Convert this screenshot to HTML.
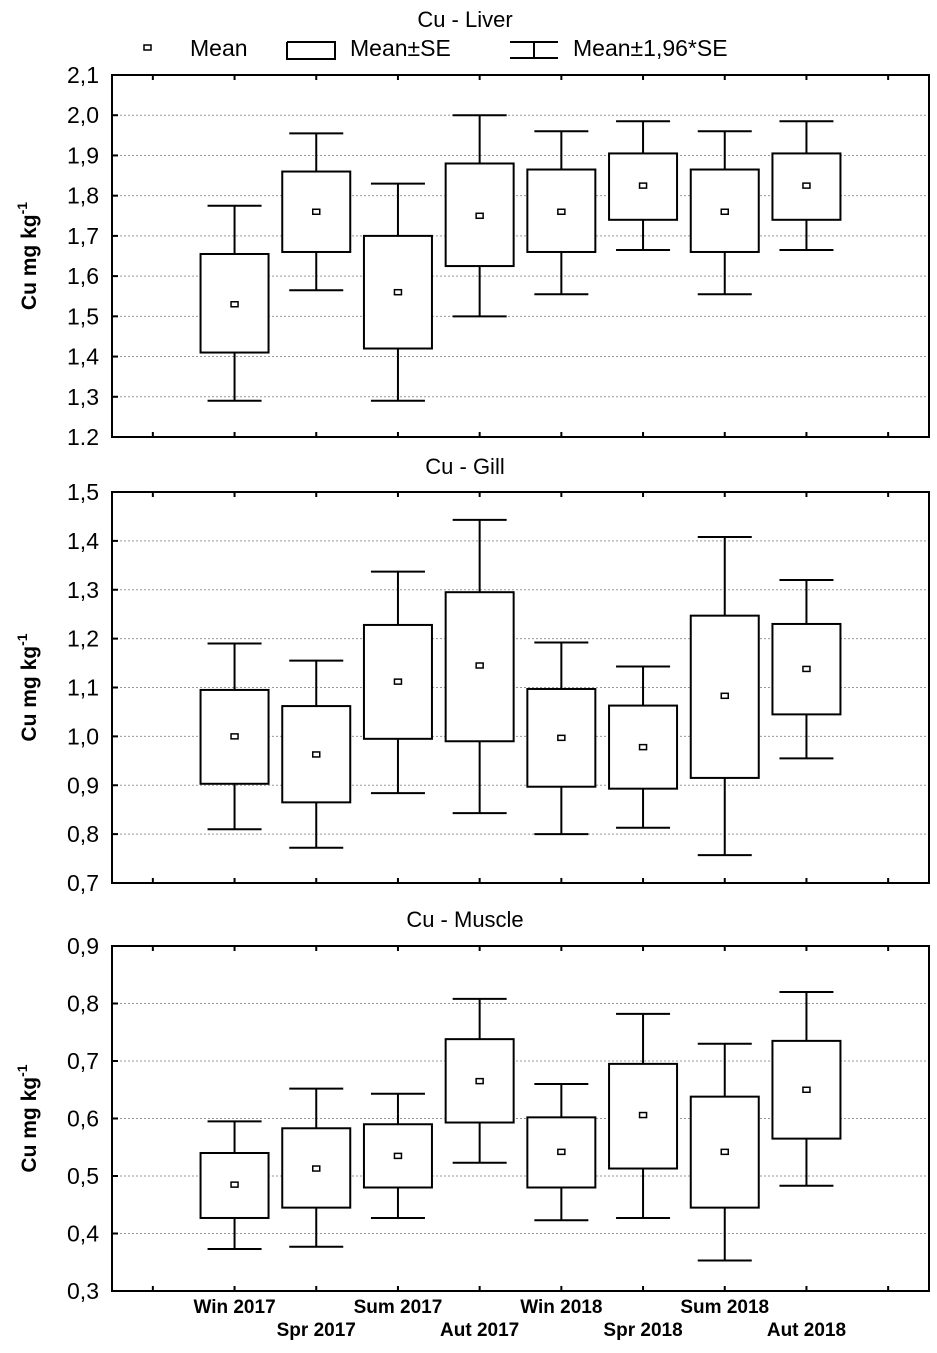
<!DOCTYPE html>
<html><head><meta charset="utf-8"><style>
body{margin:0;background:#fff}
svg{display:block;font-family:"Liberation Sans",Arial,sans-serif}
</style></head><body>
<svg id="c" width="937" height="1353" viewBox="0 0 937 1353"></svg>
<script>
const categories=["Win 2017","Spr 2017","Sum 2017","Aut 2017","Win 2018","Spr 2018","Sum 2018","Aut 2018"];
const liverMean=[1.53,1.76,1.56,1.75,1.76,1.825,1.76,1.825];
const liverSeLo=[1.41,1.66,1.42,1.625,1.66,1.74,1.66,1.74];
const liverSeHi=[1.655,1.86,1.70,1.88,1.865,1.905,1.865,1.905];
const liverCiLo=[1.29,1.565,1.29,1.50,1.555,1.665,1.555,1.665];
const liverCiHi=[1.775,1.955,1.83,2.00,1.96,1.985,1.96,1.985];
const gillMean=[1.0,0.963,1.112,1.145,0.997,0.978,1.083,1.138];
const gillSeLo=[0.903,0.865,0.995,0.99,0.897,0.893,0.915,1.045];
const gillSeHi=[1.095,1.062,1.228,1.295,1.097,1.063,1.247,1.23];
const gillCiLo=[0.81,0.772,0.884,0.843,0.80,0.813,0.757,0.955];
const gillCiHi=[1.19,1.155,1.337,1.443,1.192,1.143,1.408,1.32];
const muscleMean=[0.485,0.513,0.535,0.665,0.542,0.606,0.542,0.65];
const muscleSeLo=[0.427,0.445,0.48,0.593,0.48,0.513,0.445,0.565];
const muscleSeHi=[0.54,0.583,0.59,0.738,0.602,0.695,0.638,0.735];
const muscleCiLo=[0.373,0.377,0.427,0.523,0.423,0.427,0.353,0.483];
const muscleCiHi=[0.595,0.652,0.643,0.808,0.66,0.782,0.73,0.82];
const liverTicks=["2,1","2,0","1,9","1,8","1,7","1,6","1,5","1,4","1,3","1.2"];
const gillTicks=["1,5","1,4","1,3","1,2","1,1","1,0","0,9","0,8","0,7"];
const muscleTicks=["0,9","0,8","0,7","0,6","0,5","0,4","0,3"];

const NS="http://www.w3.org/2000/svg";
const svg=document.getElementById('c');
function mk(tag,attrs,parent,txt){const e=document.createElementNS(NS,tag);for(const k in attrs)e.setAttribute(k,attrs[k]);if(txt!==undefined)e.textContent=txt;(parent||svg).appendChild(e);return e;}
const L=112,R=929;
const step=(R-L)/10;
function xPos(i){return L+(i+1.5)*step;}

function panel(name,title,titleY,top,bottom,vmax,vmin,ticks,mean,seLo,seHi,ciLo,ciHi){
  const g=mk('g',{});
  
  
  const y=v=>top+(vmax-v)/(vmax-vmin)*(bottom-top);
  const t=mk('text',{x:465,y:titleY,'text-anchor':'middle','font-size':22},g,title);
  
  ticks.forEach((lab,i)=>{
    const v=vmax-i*(vmax-vmin)/(ticks.length-1);
    const yy=y(v);
    if(i>0&&i<ticks.length-1){const gl=mk('line',{x1:L,x2:R,y1:yy,y2:yy,stroke:'#999','stroke-width':1,'stroke-dasharray':'2,2'},g);
      }
    mk('line',{x1:L,x2:L+6,y1:yy,y2:yy,stroke:'#000','stroke-width':2},g);
    const tl=mk('text',{x:99,y:yy+8,'text-anchor':'end','font-size':23},g,lab);
    
  });
  for(let i=0;i<10;i++){const xx=L+(i+0.5)*step;
    mk('line',{x1:xx,x2:xx,y1:top,y2:top+5,stroke:'#000','stroke-width':2},g);
    mk('line',{x1:xx,x2:xx,y1:bottom,y2:bottom-5,stroke:'#000','stroke-width':2},g);}
  const fr=mk('rect',{x:L,y:top,width:R-L,height:bottom-top,fill:'none',stroke:'#000','stroke-width':2},g);
  
  const yl=mk('text',{transform:`translate(36,${(top+bottom)/2}) rotate(-90)`,'text-anchor':'middle','font-size':21,'font-weight':'bold'},g);
  
  yl.appendChild(document.createTextNode('Cu mg kg'));
  mk('tspan',{dy:-9,'font-size':14},yl,'-1');
  mean.forEach((m,i)=>{
    const cx=xPos(i);
    const bg=mk('g',{},g);
    
    
    mk('line',{x1:cx,x2:cx,y1:y(ciHi[i]),y2:y(seHi[i]),stroke:'#000','stroke-width':2},bg);
    mk('line',{x1:cx,x2:cx,y1:y(seLo[i]),y2:y(ciLo[i]),stroke:'#000','stroke-width':2},bg);
    mk('line',{x1:cx-27,x2:cx+27,y1:y(ciHi[i]),y2:y(ciHi[i]),stroke:'#000','stroke-width':2},bg);
    mk('line',{x1:cx-27,x2:cx+27,y1:y(ciLo[i]),y2:y(ciLo[i]),stroke:'#000','stroke-width':2},bg);
    mk('rect',{x:cx-34,y:y(seHi[i]),width:68,height:y(seLo[i])-y(seHi[i]),fill:'#fff',stroke:'#000','stroke-width':2},bg);
    mk('rect',{x:cx-3.5,y:y(m)-2.5,width:7,height:5,fill:'#fff',stroke:'#000','stroke-width':1.5},bg);
  });
}
panel('liver','Cu - Liver',27,75,437,2.1,1.2,liverTicks,liverMean,liverSeLo,liverSeHi,liverCiLo,liverCiHi);
panel('gill','Cu - Gill',474,492,883,1.5,0.7,gillTicks,gillMean,gillSeLo,gillSeHi,gillCiLo,gillCiHi);
panel('muscle','Cu - Muscle',927,946,1291,0.9,0.3,muscleTicks,muscleMean,muscleSeLo,muscleSeHi,muscleCiLo,muscleCiHi);

// legend
const lg=mk('g',{});


mk('rect',{x:144,y:45,width:7,height:5,fill:'#fff',stroke:'#000','stroke-width':1.5},lg);
mk('text',{x:190,y:56,'font-size':23},lg,'Mean');
mk('path',{d:'M287 42 V59 H335 V42 H287',fill:'none',stroke:'#000','stroke-width':2},lg);
mk('text',{x:350,y:56,'font-size':23},lg,'Mean±SE');
mk('path',{d:'M510 42 H558 M534 42 V58 M510 58 H558',fill:'none',stroke:'#000','stroke-width':2},lg);
mk('text',{x:573,y:56,'font-size':23},lg,'Mean±1,96*SE');

// x labels
categories.forEach((c,i)=>{
  const t=mk('text',{x:xPos(i),y:i%2===0?1313:1336,'text-anchor':'middle','font-size':19,'font-weight':'bold'},svg,c);
  
  
});
</script>
</body></html>
